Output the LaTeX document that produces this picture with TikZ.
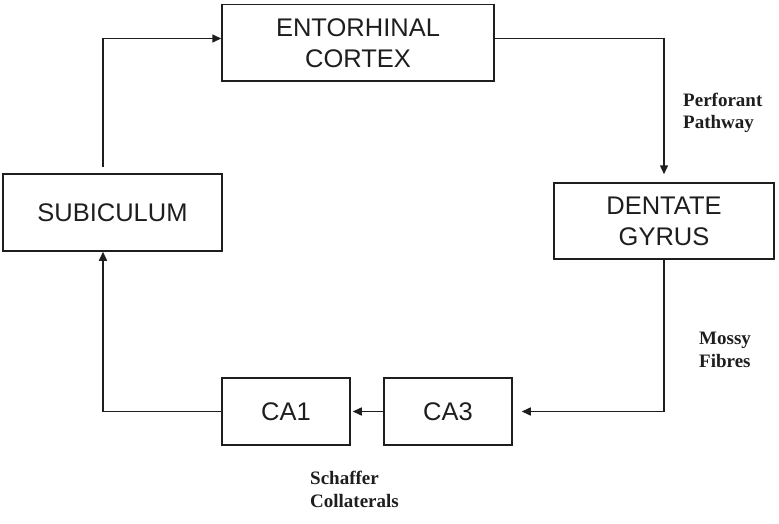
\documentclass[tikz,border=0pt]{standalone}
\usepackage{fontspec}
\setmainfont{Liberation Sans}
\newfontfamily\lblfont{Liberation Serif}
\usetikzlibrary{arrows.meta}
\definecolor{ink}{HTML}{1E1E1E}
\tikzset{
  box/.style={draw=ink, line width=1.5pt, inner sep=0pt, align=center, text=ink,
    font=\fontsize{25.5}{31}\selectfont},
  conn/.style={draw=ink, line width=1.5pt},
  arr/.style={conn, -{Triangle[length=9pt,width=8pt]}},
  lbl/.style={anchor=base west, align=left, inner sep=0pt, text=ink,
    font=\lblfont\bfseries\fontsize{19}{22.5}\selectfont}
}
\begin{document}
\begin{tikzpicture}[x=1pt,y=-1pt]
\useasboundingbox (0,0) rectangle (779,524);
\node[box, minimum width=272pt, minimum height=76.5pt] (ent) at (358,42.75) {ENTORHINAL\\CORTEX};
\node[box, minimum width=219pt, minimum height=77pt] (sub) at (112.5,212.5) {SUBICULUM};
\node[box, minimum width=220pt, minimum height=76pt] (dg) at (664,221) {DENTATE\\GYRUS};
\node[box, minimum width=128pt, minimum height=67pt] (ca1) at (286,411.5) {CA1};
\node[box, minimum width=128pt, minimum height=67pt] (ca3) at (448,411.5) {CA3};
\coordinate (p1) at (103,167);
\draw[arr] (p1) |- (ent.west |- 0,38.5);
\draw[arr] (ent.east |- 0,38.5) -| ([yshift=8pt]dg.north);
\draw[arr] (dg.south) |- ([xshift=9pt]ca3.east);
\draw[arr] (ca3.west) -- ([xshift=2pt]ca1.east);
\draw[arr] (ca1.west) -| (sub.south -| 103,0);
\node[lbl] (pp) at (683,129) {Perforant\\Pathway};
\node[lbl] (mf) at (699,367) {Mossy\\Fibres};
\node[lbl] (sc) at (310,507) {Schaffer\\Collaterals};
\end{tikzpicture}
\end{document}
